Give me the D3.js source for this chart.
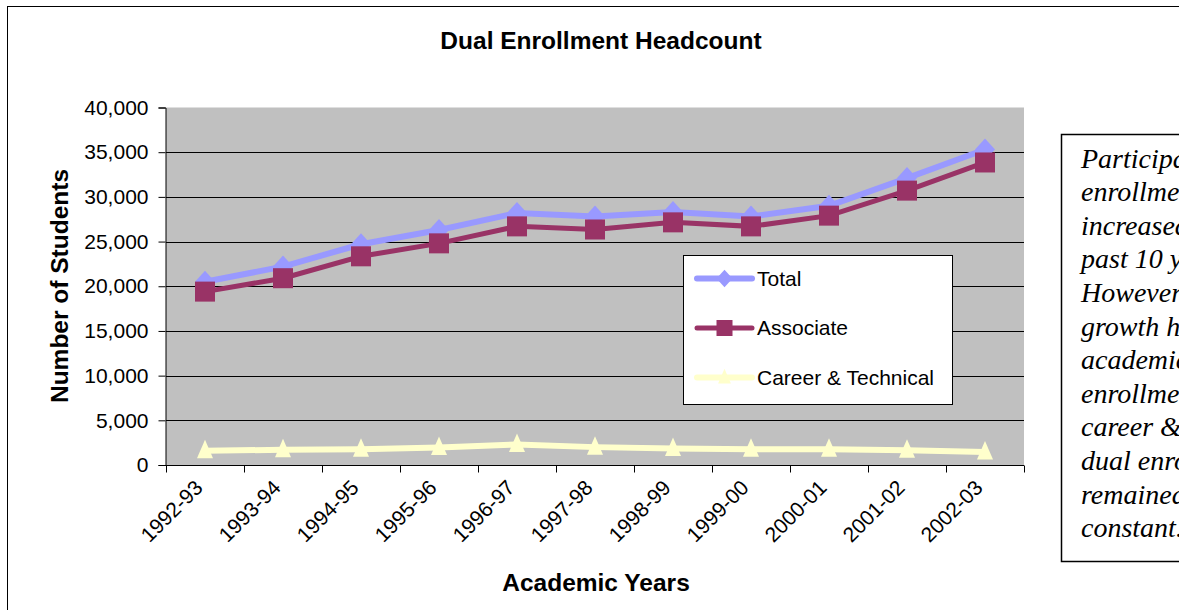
<!DOCTYPE html>
<html><head><meta charset="utf-8">
<script src="https://cdn.jsdelivr.net/npm/d3@7"></script>
<style>html,body{margin:0;padding:0;background:#fff;overflow:hidden}</style>
</head><body>
<svg id="chart" width="1179" height="610"></svg>
<script>
const years = ["1992-93","1993-94","1994-95","1995-96","1996-97","1997-98","1998-99","1999-00","2000-01","2001-02","2002-03"];
const total = [20500,22200,24700,26300,28200,27800,28300,27800,29000,32100,35300];
const associate = [19400,20900,23350,24800,26700,26350,27150,26700,27900,30700,33850];
const career = [1600,1700,1750,1950,2300,2000,1850,1750,1750,1650,1450];
const yTicks = [0,5000,10000,15000,20000,25000,30000,35000,40000];
const seriesNames = ["Total","Associate","Career & Technical"];
const noteLines = ["Participation in dual","enrollment has","increased over the","past 10 years.","However, most of the","growth has been in","academic dual","enrollment, while","career & technical","dual enrollment has","remained relatively","constant."];

const svg = d3.select("#chart");
const L = 166, R = 1024, T = 107.5, B = 465;
const x = d3.scaleBand().domain(years).range([L, R]);
const y = d3.scaleLinear().domain([0, 40000]).range([B, T]);
const cx = d => x(d) + x.bandwidth() / 2;
const SANS = "Liberation Sans, Arial, sans-serif";

// outer frame
svg.append("rect").attr("x", 7.5).attr("y", 6.5).attr("width", 1200).attr("height", 700)
  .attr("fill", "#fff").attr("stroke", "#000").attr("stroke-width", 1);

// plot area
svg.append("rect").attr("x", L).attr("y", T).attr("width", R - L).attr("height", B - T).attr("fill", "#C0C0C0");

// gridlines
svg.append("g").selectAll("line").data(yTicks.filter(v => v > 0 && v < 40000)).join("line")
  .attr("x1", L).attr("x2", R).attr("y1", d => Math.round(y(d)) + 0.5).attr("y2", d => Math.round(y(d)) + 0.5)
  .attr("stroke", "#000").attr("stroke-width", 1);

// y axis
const yAxis = d3.axisLeft(y).tickValues(yTicks).tickFormat(d3.format(",")).tickSize(7).tickPadding(10);
const gy = svg.append("g").attr("transform", `translate(${L - 0.5},0)`).call(yAxis);
gy.selectAll("text").attr("font-family", SANS).attr("font-size", 21).attr("fill", "#000");
gy.select(".domain").attr("stroke", "#000");

// x axis
const gx = svg.append("g").attr("transform", `translate(0,${B + 0.5})`);
gx.append("path").attr("d", `M${L},0H${R}`).attr("stroke", "#000");
gx.selectAll("line.bt").data(d3.range(years.length + 1)).join("line").attr("class", "bt")
  .attr("x1", i => Math.round(L + i * x.bandwidth()) + 0.5).attr("x2", i => Math.round(L + i * x.bandwidth()) + 0.5)
  .attr("y1", 0).attr("y2", 7).attr("stroke", "#000");
svg.append("g").selectAll("text").data(years).join("text")
  .attr("transform", d => `translate(${cx(d) - 1},${B + 24}) rotate(-45)`)
  .attr("text-anchor", "end")
  .attr("font-family", SANS).attr("font-size", 21).text(d => d);

// lines
const line = d3.line().x((d, i) => cx(years[i])).y(d => y(d));
const colors = ["#9999FF", "#993366", "#FFFFCC"];
const data = [total, associate, career];
const widths = [6, 5, 6];

function marker(g, type, color, px, py, s) {
  if (type === 0) {
    g.append("path").attr("d", `M${px},${py - s * 1.1}L${px + s},${py}L${px},${py + s * 1.1}L${px - s},${py}Z`).attr("fill", color);
  } else if (type === 1) {
    g.append("rect").attr("x", px - s).attr("y", py - s).attr("width", 2 * s).attr("height", 2 * s).attr("fill", color);
  } else {
    g.append("path").attr("d", `M${px},${py - s * 1.1}L${px + s * 0.8},${py + s * 0.75}L${px - s * 0.8},${py + s * 0.75}Z`).attr("fill", color);
  }
}

data.forEach((s, k) => {
  const g = svg.append("g");
  g.append("path").datum(s).attr("d", line).attr("fill", "none").attr("stroke", colors[k]).attr("stroke-width", widths[k]);
  s.forEach((v, i) => marker(g, k, colors[k], cx(years[i]), y(v), 10));
});

// legend
const lg = svg.append("g");
lg.append("rect").attr("x", 683.5).attr("y", 255.5).attr("width", 269).attr("height", 149).attr("fill", "#fff").attr("stroke", "#000");
seriesNames.forEach((n, k) => {
  const ly = 278.5 + k * 49.5;
  lg.append("line").attr("x1", 697).attr("x2", 752).attr("y1", ly).attr("y2", ly).attr("stroke", colors[k]).attr("stroke-width", widths[k]).attr("stroke-linecap", "round");
  marker(lg, k, colors[k], 724.5, ly, 8);
  lg.append("text").attr("x", 757).attr("y", ly).attr("dy", "0.35em").attr("font-family", SANS).attr("font-size", 21).text(n);
});

// titles
svg.append("text").attr("x", 601).attr("y", 49).attr("text-anchor", "middle").attr("font-family", SANS)
  .attr("font-size", 24.5).attr("font-weight", "bold").text("Dual Enrollment Headcount");
svg.append("text").attr("x", 596).attr("y", 591).attr("text-anchor", "middle").attr("font-family", SANS)
  .attr("font-size", 24.5).attr("font-weight", "bold").text("Academic Years");
svg.append("text").attr("transform", "translate(68,286) rotate(-90)").attr("text-anchor", "middle").attr("font-family", SANS)
  .attr("font-size", 24.5).attr("font-weight", "bold").text("Number of Students");

// note box
svg.append("rect").attr("x", 1061.5).attr("y", 134.5).attr("width", 200).attr("height", 427).attr("fill", "#fff").attr("stroke", "#000").attr("stroke-width", 1.5);
svg.append("g").selectAll("text").data(noteLines).join("text")
  .attr("x", 1081).attr("y", (d, i) => 167.5 + i * 33.6)
  .attr("font-family", "Liberation Serif, Times New Roman, serif").attr("font-style", "italic").attr("font-size", 28).text(d => d);
</script>
</body></html>
